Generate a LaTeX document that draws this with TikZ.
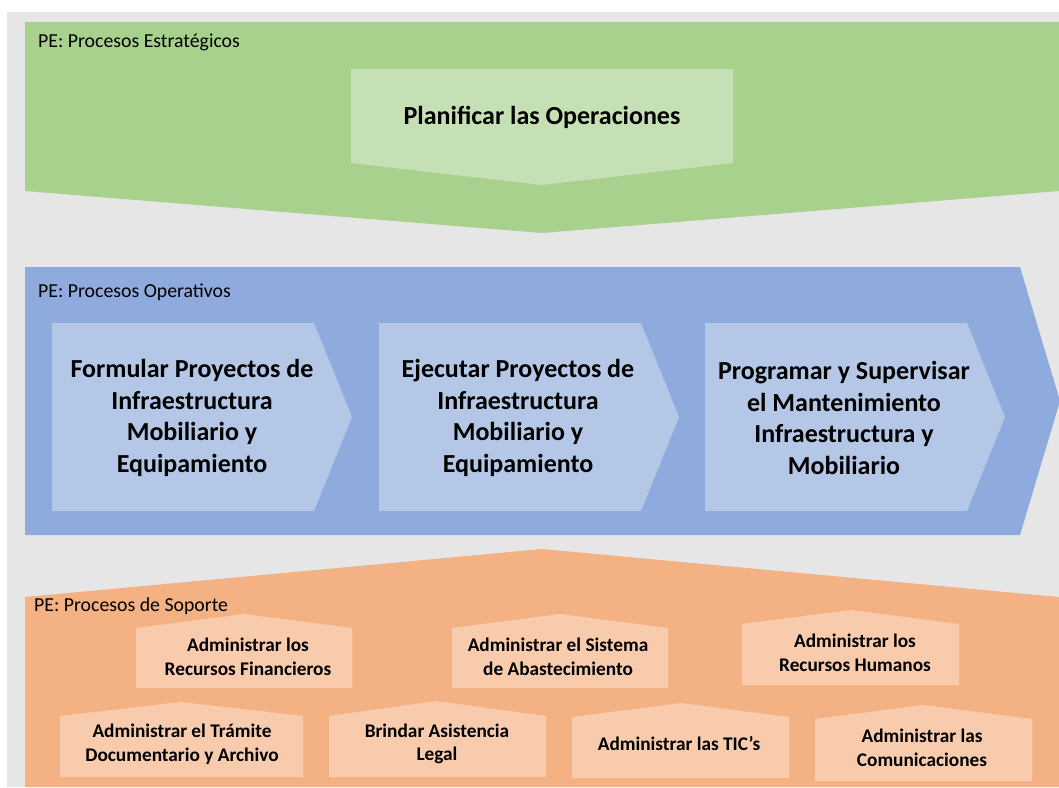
\documentclass[tikz,border=0pt]{standalone}
\usepackage{fontspec}
\setmainfont{Carlito}
\definecolor{bggray}{HTML}{E6E6E6}
\definecolor{gdark}{HTML}{A9D18E}
\definecolor{glight}{HTML}{C5E0B4}
\definecolor{bdark}{HTML}{8FAADC}
\definecolor{blight}{HTML}{B4C7E7}
\definecolor{odark}{HTML}{F4B183}
\definecolor{olight}{HTML}{F8CBAD}
\tikzset{
  lbl/.style={anchor=base west, font=\fontsize{19.8}{23}\selectfont, inner sep=0pt},
  bigtxt/.style={align=center, font=\bfseries\fontsize{26}{30}\selectfont, inner sep=0pt},
  chevtxt/.style={align=center, font=\bfseries\fontsize{26}{31.5}\selectfont, inner sep=0pt},
  boxtxt/.style={align=center, font=\bfseries\fontsize{19.3}{23.5}\selectfont, inner sep=0pt},
  chev/.style={fill=blight},
  house/.style={fill=olight}
}
\begin{document}
\begin{tikzpicture}[x=1pt,y=-1pt]
\useasboundingbox (0,0) rectangle (1059,787);
\clip (0,0) rectangle (1059,787);
\fill[white] (0,0) rectangle (1059,787);
\fill[bggray] (7,12) rectangle (1059,787);
% strategic
\fill[gdark] (25,22) -- (1059,22) -- (1059,191) -- (542,233) -- (25,191) -- cycle;
\fill[glight] (351,69) -- (733,69) -- (733,163) -- (542,185) -- (351,163) -- cycle;
\node[lbl] (pe1) at (38,47) {PE: Procesos Estratégicos};
\node[bigtxt] (plan) at (542,117) {Planificar las Operaciones};
% operative
\fill[bdark] (25,267) -- (1020,267) -- (1060,401) -- (1020,535) -- (25,535) -- cycle;
\node[lbl] (pe2) at (38,297) {PE: Procesos Operativos};
\foreach \x in {52,379,705}{
  \fill[chev] (\x,323) -- ({\x+262},323) -- ({\x+300},417) -- ({\x+262},511) -- (\x,511) -- cycle;
}
\node[chevtxt] (c1) at (192,418) {Formular Proyectos de\\Infraestructura\\Mobiliario y\\Equipamiento};
\node[chevtxt] (c2) at (518,418) {Ejecutar Proyectos de\\Infraestructura\\Mobiliario y\\Equipamiento};
\node[chevtxt] (c3) at (844,418) {Programar y Supervisar\\el Mantenimiento\\Infraestructura y\\Mobiliario};
% support
\fill[odark] (25,597) -- (542,549) -- (1059,597) -- (1059,787) -- (25,787) -- cycle;
\node[lbl] (pe3) at (34,611) {PE: Procesos de Soporte};
\fill[house] (136,628) -- (244,614) -- (352,628) -- (352,688) -- (136,688) -- cycle;
\fill[house] (452,628) -- (560,614) -- (668,628) -- (668,688) -- (452,688) -- cycle;
\fill[house] (742,624) -- (851,610) -- (959,624) -- (959,685) -- (742,685) -- cycle;
\fill[house] (60,716) -- (181,702) -- (303,716) -- (303,777) -- (60,777) -- cycle;
\fill[house] (329,716) -- (436,701) -- (546,716) -- (546,777) -- (329,777) -- cycle;
\fill[house] (572,717) -- (681,703) -- (789,717) -- (789,778) -- (572,778) -- cycle;
\fill[house] (815,719) -- (923,705) -- (1032,719) -- (1032,781) -- (815,781) -- cycle;
\node[boxtxt] (s1) at (248,657) {Administrar los\\Recursos Financieros};
\node[boxtxt] (s2) at (558,657) {Administrar el Sistema\\de Abastecimiento};
\node[boxtxt] (s3) at (855,653) {Administrar los\\Recursos Humanos};
\node[boxtxt] (s4) at (182,744) {Administrar el Trámite\\Documentario y Archivo};
\node[boxtxt] (s5) at (437,744) {Brindar Asistencia\\Legal};
\node[boxtxt] (s6) at (679,744) {Administrar las TIC’s};
\node[boxtxt] (s7) at (922,748) {Administrar las\\Comunicaciones};
\end{tikzpicture}
\end{document}
